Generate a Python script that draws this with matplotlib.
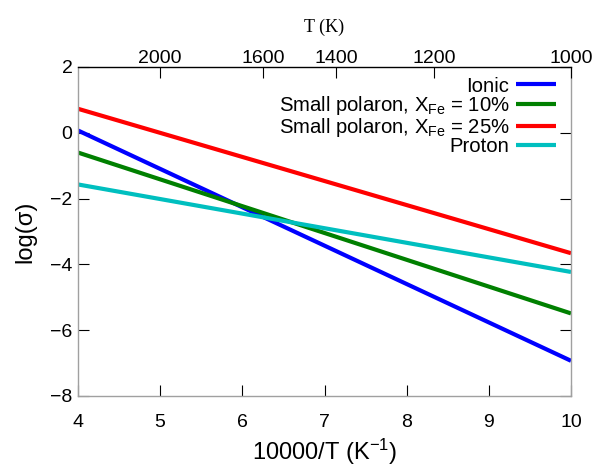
import matplotlib
matplotlib.use("Agg")
import matplotlib.pyplot as plt
import numpy as np

plt.rcParams['font.family'] = ['Liberation Sans', 'DejaVu Sans']
plt.rcParams['mathtext.fontset'] = 'custom'
plt.rcParams['mathtext.rm'] = 'Liberation Sans'
plt.rcParams['mathtext.it'] = 'Liberation Sans:italic'
plt.rcParams['mathtext.default'] = 'rm'

x_ends = [4, 10]
series_labels = ['Ionic', 'Small polaron, X$_{\\mathrm{Fe}}$ = 10%',
                 'Small polaron, X$_{\\mathrm{Fe}}$ = 25%', 'Proton']
ionic = [0.07, -6.93]
polaron10 = [-0.6, -5.49]
polaron25 = [0.73, -3.66]
proton = [-1.57, -4.23]
colors = ['#0000ff', '#008000', '#ff0000', '#00bfbf']

x_ticks = [4, 5, 6, 7, 8, 9, 10]
y_ticks = [-8, -6, -4, -2, 0, 2]
T_ticks = [2000, 1600, 1400, 1200, 1000]

fig = plt.figure(figsize=(5.92, 4.66), dpi=100)
ax = fig.add_axes([78/592, 1-396/466, (571-78)/592, (396-67)/466])

for vals, lab, c in zip([ionic, polaron10, polaron25, proton], series_labels, colors):
    ax.plot(x_ends, vals, color=c, lw=3, label=lab, solid_capstyle='butt')

ax.set_xlim(4, 10)
ax.set_ylim(-8, 2)
ax.set_xticks(x_ticks)
ax.set_yticks(y_ticks)
ax.tick_params(axis='both', direction='in', length=8, width=0.8, labelsize=14, colors='black')
ax.tick_params(axis='x', pad=13, top=False)
ax.tick_params(axis='y', pad=4, right=True)
for s in ['left', 'right', 'bottom']:
    ax.spines[s].set_color('#a0a0a0')
ax.spines['top'].set_color('black')
for s in ax.spines.values():
    s.set_linewidth(1.0)

ax.set_xlabel('10000/T (K$^{-1}$)', fontsize=17, labelpad=4)
ax.set_ylabel('log(σ)', fontsize=17, labelpad=10)

ax2 = ax.twiny()
ax2.set_xlim(4, 10)
ax2.set_xticks([10000 / t for t in T_ticks])
ax2.set_xticklabels([str(t) for t in T_ticks])
ax2.tick_params(axis='x', direction='in', length=8, width=0.8, labelsize=14, pad=0)
for s in ax2.spines.values():
    s.set_visible(False)
ax2.set_xlabel('T (K)', fontsize=13, family='Liberation Serif', labelpad=13)

leg = ax.legend(loc='upper right', bbox_to_anchor=(0.9696, 0.971), frameon=False,
                markerfirst=False, fontsize=14.6,
                handlelength=1.95, handletextpad=0.35, labelspacing=-0.07,
                borderaxespad=0.0, borderpad=0.0)
for t in leg.get_texts():
    t.set_ha('right')

fig.savefig('out.png', dpi=100)
